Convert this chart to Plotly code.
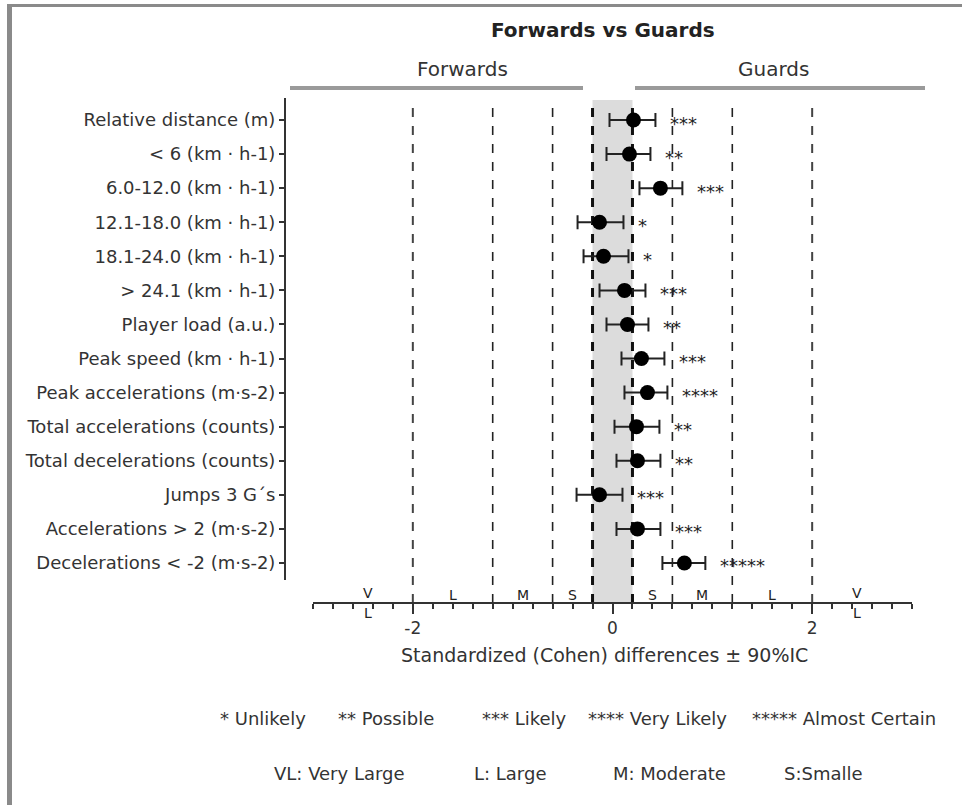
import plotly.graph_objects as go

# ---------------- data ----------------
labels = [
    "Relative distance (m)",
    "< 6 (km · h-1)",
    "6.0-12.0 (km · h-1)",
    "12.1-18.0 (km · h-1)",
    "18.1-24.0 (km · h-1)",
    "> 24.1 (km · h-1)",
    "Player load (a.u.)",
    "Peak speed (km · h-1)",
    "Peak accelerations (m·s-2)",
    "Total accelerations (counts)",
    "Total decelerations (counts)",
    "Jumps 3 G´s",
    "Accelerations > 2 (m·s-2)",
    "Decelerations < -2 (m·s-2)",
]
effect = [0.21, 0.17, 0.48, -0.13, -0.09, 0.12, 0.15, 0.29, 0.35, 0.24, 0.25, -0.13, 0.25, 0.72]
lower = [-0.03, -0.06, 0.27, -0.35, -0.29, -0.13, -0.06, 0.09, 0.12, 0.02, 0.04, -0.36, 0.04, 0.50]
upper = [0.43, 0.38, 0.70, 0.11, 0.16, 0.33, 0.36, 0.52, 0.55, 0.47, 0.48, 0.10, 0.48, 0.93]
stars = ["***", "**", "***", "*", "*", "***", "**", "***", "****", "**", "**", "***", "***", "*****"]

thresholds = [0.2, 0.6, 1.2, 2.0]
magnitude_labels = ["S", "M", "L", "VL"]
magnitude_pos = [0.4, 0.9, 1.6, 2.45]
x_ticks = [-2, 0, 2]

legend_line1 = ["* Unlikely", "** Possible", "*** Likely", "**** Very Likely", "***** Almost Certain"]
legend_line2 = ["VL: Very Large", "L: Large", "M: Moderate", "S:Smalle"]

# ---------------- layout helpers ----------------
W, H = 962, 805
FONT = "DejaVu Sans"
TXT = "#333333"


def px(x):
    return x / W


def py(y):
    return 1 - y / H


fig = go.Figure()

fig.add_trace(go.Scatter(
    x=effect, y=labels, mode="markers",
    marker=dict(color="black", size=15),
    error_x=dict(type="data", symmetric=False,
                 array=[u - e for u, e in zip(upper, effect)],
                 arrayminus=[e - l for e, l in zip(effect, lower)],
                 color="#222222", thickness=2, width=7),
    showlegend=False, hoverinfo="skip",
))

shapes = []
# grey trivial band
shapes.append(dict(type="rect", xref="x", yref="paper", x0=-thresholds[0], x1=thresholds[0],
                   y0=py(603), y1=py(100), fillcolor="#dcdcdc", line_width=0, layer="below"))
# threshold lines
for i, t in enumerate(thresholds):
    for s in (-1, 1):
        if i == 0:
            ln = dict(color="#111111", width=3, dash="dash")
        elif i == 3:
            ln = dict(color="#444444", width=2, dash="dash")
        else:
            ln = dict(color="#222222", width=1.6, dash="dash")
        shapes.append(dict(type="line", xref="x", yref="paper", x0=s * t, x1=s * t,
                           y0=py(603), y1=py(100), line=ln, layer="below"))
# y axis line
shapes.append(dict(type="line", xref="paper", yref="paper", x0=px(285), x1=px(285),
                   y0=py(580), y1=py(98), line=dict(color="#333333", width=2)))
# header lines
shapes.append(dict(type="line", xref="paper", yref="paper", x0=px(290), x1=px(583),
                   y0=py(88), y1=py(88), line=dict(color="#9a9a9a", width=4)))
shapes.append(dict(type="line", xref="paper", yref="paper", x0=px(635), x1=px(925),
                   y0=py(88), y1=py(88), line=dict(color="#9a9a9a", width=4)))
# frame
shapes.append(dict(type="line", xref="paper", yref="paper", x0=px(7), x1=1,
                   y0=py(5.5), y1=py(5.5), line=dict(color="#8a8a8a", width=3)))
shapes.append(dict(type="line", xref="paper", yref="paper", x0=px(9.5), x1=px(9.5),
                   y0=0, y1=py(4), line=dict(color="#8a8a8a", width=5)))

annotations = []
# stars
for lab, u, s in zip(labels, upper, stars):
    annotations.append(dict(x=u + 0.13, y=lab, xref="x", yref="y", text=s, showarrow=False,
                            xanchor="left", yanchor="middle", yshift=-3,
                            font=dict(family=FONT, size=18, color="#222222")))


# magnitude letters on axis
def mag(x, y, t):
    annotations.append(dict(x=x, y=py(y), xref="x", yref="paper", text=t, showarrow=False,
                            xanchor="center", yanchor="middle",
                            font=dict(family=FONT, size=14, color="#222222")))


for lab, p in zip(magnitude_labels, magnitude_pos):
    for s in (-1, 1):
        if lab == "VL":
            mag(s * p, 593, "V")
            mag(s * p, 613, "L")
        else:
            mag(s * p, 595, lab)


def note(x, y, t, size, color=TXT, anchor="center"):
    annotations.append(dict(x=px(x), y=py(y), xref="paper", yref="paper", text=t, showarrow=False,
                            xanchor=anchor, yanchor="middle",
                            font=dict(family=FONT, size=size, color=color)))


# titles
note(603, 30, "<b>Forwards vs Guards</b>", 20, "#222222")
note(462, 69, "Forwards", 20)
note(773, 69, "Guards", 20)
note(604, 655, "Standardized (Cohen) differences ± 90%IC", 19)
# legends
for t, xx in zip(legend_line1, [218, 336, 480, 586, 750]):
    note(xx, 718, t, 18, anchor="left")
for t, xx in zip(legend_line2, [272, 472, 611, 782]):
    note(xx, 773, t, 18, anchor="left")

fig.update_layout(
    width=W, height=H,
    margin=dict(l=0, r=0, t=0, b=0),
    paper_bgcolor="white", plot_bgcolor="rgba(0,0,0,0)",
    shapes=shapes, annotations=annotations,
    xaxis=dict(domain=[px(313), px(912)], range=[-3, 3], anchor="free", position=py(603),
               tickvals=x_ticks, ticktext=[str(v) for v in x_ticks],
               ticks="outside", ticklen=10, tickwidth=2, tickcolor="#333333",
               minor=dict(dtick=0.2, tick0=0, ticks="outside", ticklen=5, tickwidth=1.5, tickcolor="#333333"),
               showline=True, linecolor="#333333", linewidth=2, showgrid=False, zeroline=False,
               tickfont=dict(family=FONT, size=17, color=TXT), fixedrange=True),
    yaxis=dict(domain=[py(580), py(98)], range=[13.5, -0.646], type="category",
               categoryorder="array", categoryarray=labels,
               anchor="free", position=px(285),
               ticks="outside", ticklen=6, tickwidth=2, tickcolor="#333333",
               showline=False, showgrid=False, zeroline=False,
               tickfont=dict(family=FONT, size=18, color=TXT), fixedrange=True),
)

fig.write_html("out.html")
